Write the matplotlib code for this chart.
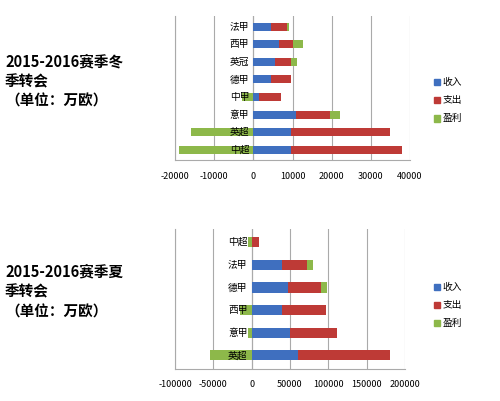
import matplotlib
matplotlib.use("Agg")
import matplotlib.pyplot as plt
import matplotlib.transforms as mtrans

plt.rcParams['font.family'] = ['Noto Sans CJK SC', 'DejaVu Sans']

w_cats = ['中超', '英超', '意甲', '中甲', '德甲', '英冠', '西甲', '法甲']
w_inc = [9500, 9500, 11000, 1500, 4500, 5500, 6500, 4500]
w_exp = [28500, 25500, 8500, 5500, 5200, 4000, 3500, 4000]
w_pro = [-19000, -16000, 2500, -3000, 0, 1700, 2800, 700]
w_ticks = [-20000, -10000, 0, 10000, 20000, 30000, 40000]

s_cats = ['英超', '意甲', '西甲', '德甲', '法甲', '中超']
s_inc = [60000, 50000, 40000, 47000, 40000, 1000]
s_exp = [120000, 61000, 57000, 43000, 32000, 8000]
s_pro = [-55000, -5000, -15000, 8000, 8000, -5000]
s_ticks = [-100000, -50000, 0, 50000, 100000, 150000, 200000]

C_INC, C_EXP, C_PRO = '#3F6FBF', '#BE3A36', '#8DB84A'

fig = plt.figure(figsize=(5.0, 4.01), dpi=100)

def panel(rect, cats, inc, exp, pro, ticks, title, legy):
    ax = fig.add_axes(rect)
    y = list(range(len(cats)))
    h = 0.45
    ax.barh(y, inc, height=h, color=C_INC, zorder=3)
    ax.barh(y, exp, left=inc, height=h, color=C_EXP, zorder=3)
    left_p = [i + e if p > 0 else 0 for i, e, p in zip(inc, exp, pro)]
    ax.barh(y, pro, left=left_p, height=h, color=C_PRO, zorder=2)
    ax.set_xlim(ticks[0], ticks[-1])
    ax.set_ylim(-0.6, len(cats) - 0.4)
    ax.set_xticks(ticks)
    ax.set_xticklabels([str(t) for t in ticks], fontsize=6.5)
    ax.tick_params(axis='x', length=0, pad=8)
    ax.set_yticks([])
    ax.grid(axis='x', color='#AAAAAA', lw=0.8, zorder=0)
    for s in ['top', 'right']:
        ax.spines[s].set_visible(False)
    ax.spines['left'].set_color('#AAAAAA')
    ax.spines['bottom'].set_color('#AAAAAA')
    ax.axvline(0, color='#999999', lw=0.8, zorder=1)
    tr = mtrans.offset_copy(ax.transData, fig=fig, x=-3, y=0, units='points')
    for yi, c in zip(y, cats):
        ax.text(0, yi, c, transform=tr, ha='right', va='center', fontsize=7, zorder=5)
    for k, (lab, col) in enumerate([('收入', C_INC), ('支出', C_EXP), ('盈利', C_PRO)]):
        fy = legy - k * 0.045
        fig.patches.append(plt.Rectangle((0.868, fy - 0.008), 0.012, 0.016, color=col,
                                         transform=fig.transFigure, figure=fig))
        fig.text(0.885, fy, lab, fontsize=7, va='center')
    fig.text(0.01, rect[1] + rect[3] * 0.55, title, fontsize=10.5, fontweight='bold',
             va='center', linespacing=1.3)
    return ax

panel([0.35, 0.60, 0.47, 0.36], w_cats, w_inc, w_exp, w_pro, w_ticks,
      '2015-2016赛季冬\n季转会\n（单位：万欧）', 0.795)
panel([0.35, 0.08, 0.46, 0.35], s_cats, s_inc, s_exp, s_pro, s_ticks,
      '2015-2016赛季夏\n季转会\n（单位：万欧）', 0.285)

fig.savefig('out.png', dpi=100, facecolor='white')
